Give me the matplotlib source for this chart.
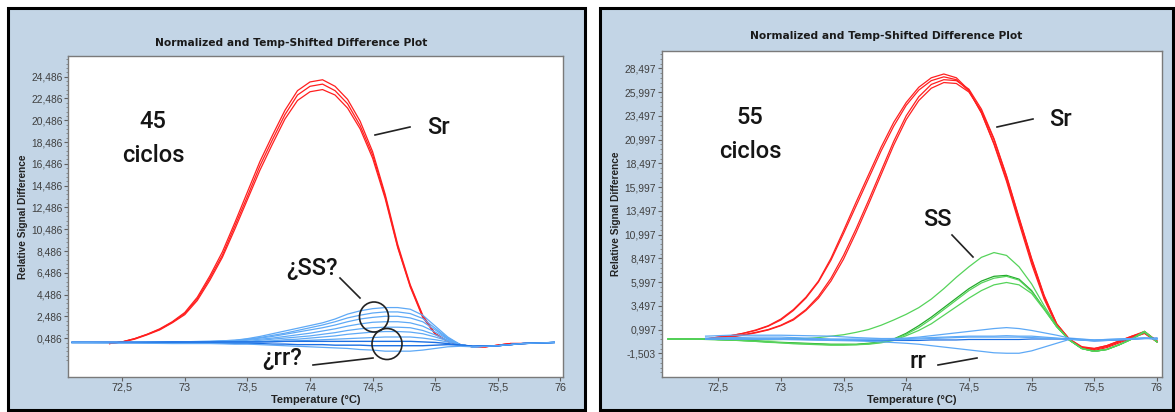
import numpy as np
import matplotlib
matplotlib.use("Agg")
import matplotlib.pyplot as plt
from matplotlib.patches import Rectangle, Ellipse
from matplotlib.lines import Line2D

W, H = 1175, 412
fig = plt.figure(figsize=(W / 100, H / 100), dpi=100)
fig.patch.set_facecolor("white")

# ---------------- data: 45 cycles (left) ----------------
left_red_x = np.round(np.arange(72.4, 75.81, 0.1), 2)
left_red_1 = [0.0, 0.15, 0.45, 0.85, 1.35, 2.0, 2.85, 4.25, 6.2, 8.4, 11.1, 13.9, 16.7, 19.1, 21.4, 23.2,
              24.0, 24.2, 23.6, 22.4, 20.4, 17.6, 13.7, 9.1, 5.4, 2.6, 0.9, 0.2, -0.1, -0.3, -0.3, -0.15, 0.0, 0.0, 0.05]
left_red_2 = [0.0, 0.15, 0.45, 0.85, 1.3, 1.95, 2.75, 4.1, 6.0, 8.1, 10.8, 13.5, 16.3, 18.7, 21.0, 22.8,
              23.6, 23.8, 23.2, 22.0, 20.0, 17.3, 13.5, 8.9, 5.3, 2.5, 0.9, 0.2, -0.1, -0.3, -0.3, -0.15, 0.0, 0.0, 0.05]
left_red_3 = [0.0, 0.15, 0.4, 0.8, 1.25, 1.9, 2.65, 3.95, 5.8, 7.9, 10.5, 13.2, 15.9, 18.3, 20.6, 22.3,
              23.1, 23.3, 22.8, 21.6, 19.7, 17.0, 13.3, 8.8, 5.2, 2.4, 0.85, 0.2, -0.1, -0.3, -0.3, -0.15, 0.0, 0.0, 0.05]

left_blue_x = [72.1, 72.5, 72.9, 73.2, 73.4, 73.5, 73.6, 73.7, 73.8, 73.9, 74.0, 74.1, 74.2, 74.3, 74.4,
               74.5, 74.6, 74.7, 74.8, 74.9, 75.0, 75.1, 75.2, 75.3, 75.5, 75.7, 75.95]
left_blue_1 = [0.1, 0.1, 0.15, 0.2, 0.3, 0.45, 0.65, 0.9, 1.15, 1.4, 1.65, 1.9, 2.25, 2.7, 3.0, 3.2, 3.3, 3.3,
               3.15, 2.6, 1.6, 0.6, -0.1, -0.3, -0.2, 0.0, 0.1]
left_blue_2 = [0.1, 0.1, 0.15, 0.2, 0.3, 0.4, 0.55, 0.75, 0.95, 1.2, 1.45, 1.7, 2.0, 2.35, 2.6, 2.8, 2.9, 2.9,
               2.75, 2.3, 1.4, 0.5, -0.1, -0.3, -0.2, 0.0, 0.1]
left_blue_3 = [0.1, 0.1, 0.1, 0.15, 0.25, 0.35, 0.5, 0.65, 0.85, 1.05, 1.25, 1.45, 1.7, 2.0, 2.25, 2.4, 2.5, 2.5,
               2.35, 2.0, 1.25, 0.45, -0.1, -0.3, -0.2, 0.0, 0.1]
left_blue_4 = [0.1, 0.1, 0.1, 0.15, 0.2, 0.3, 0.4, 0.5, 0.65, 0.8, 0.95, 1.15, 1.35, 1.6, 1.8, 1.95, 2.0, 2.0,
               1.9, 1.6, 1.05, 0.4, -0.1, -0.3, -0.2, 0.0, 0.1]
left_blue_5 = [0.1, 0.1, 0.1, 0.1, 0.15, 0.2, 0.3, 0.4, 0.5, 0.6, 0.7, 0.85, 1.0, 1.2, 1.35, 1.45, 1.5, 1.5,
               1.45, 1.2, 0.8, 0.3, -0.1, -0.3, -0.2, 0.0, 0.1]
left_blue_6 = [0.1, 0.1, 0.1, 0.1, 0.1, 0.15, 0.2, 0.25, 0.35, 0.4, 0.5, 0.6, 0.7, 0.85, 0.95, 1.05, 1.1, 1.1,
               1.05, 0.9, 0.6, 0.25, -0.1, -0.25, -0.2, 0.0, 0.1]
left_blue_7 = [0.1, 0.1, 0.1, 0.1, 0.1, 0.1, 0.15, 0.2, 0.2, 0.25, 0.3, 0.35, 0.4, 0.45, 0.5, 0.55, 0.6, 0.6,
               0.6, 0.5, 0.35, 0.15, -0.1, -0.25, -0.2, 0.0, 0.1]
left_blue_8 = [0.1, 0.1, 0.15, 0.15, 0.15, 0.15, 0.15, 0.15, 0.2, 0.2, 0.2, 0.2, 0.2, 0.2, 0.2, 0.2, 0.2, 0.2,
               0.2, 0.15, 0.1, 0.0, -0.15, -0.25, -0.2, 0.0, 0.1]
left_blue_9 = [0.1, 0.1, 0.05, 0.05, 0.0, 0.0, 0.0, -0.05, -0.05, -0.1, -0.1, -0.1, -0.15, -0.15, -0.15, -0.2,
               -0.2, -0.2, -0.2, -0.2, -0.15, -0.1, -0.15, -0.25, -0.2, 0.0, 0.1]
left_blue_10 = [0.1, 0.05, 0.0, 0.0, -0.05, -0.05, -0.1, -0.15, -0.2, -0.25, -0.3, -0.35, -0.4, -0.45, -0.55,
                -0.6, -0.7, -0.7, -0.7, -0.6, -0.45, -0.3, -0.25, -0.3, -0.2, 0.0, 0.1]

left_yticks = [0.486, 2.486, 4.486, 6.486, 8.486, 10.486, 12.486, 14.486, 16.486, 18.486, 20.486, 22.486, 24.486]

# ---------------- data: 55 cycles (right) ----------------
right_red_x = np.round(np.arange(72.4, 76.01, 0.1), 2)
right_red_1 = [0.0, 0.2, 0.35, 0.6, 0.95, 1.4, 2.1, 3.1, 4.4, 6.1, 8.5, 11.4, 14.4, 17.3, 20.2, 22.8, 24.9, 26.5,
               27.5, 27.9, 27.5, 26.2, 23.8, 20.5, 16.6, 12.2, 7.9, 4.2, 1.4, -0.1, -0.9, -1.0, -0.7, -0.2, 0.3, 0.8, -0.2]
right_red_2 = [0.0, 0.2, 0.35, 0.6, 0.9, 1.35, 2.0, 3.0, 4.3, 6.0, 8.3, 11.1, 14.0, 16.9, 19.8, 22.4, 24.6, 26.2,
               27.2, 27.6, 27.3, 26.1, 23.8, 20.6, 16.8, 12.5, 8.2, 4.4, 1.5, 0.0, -0.8, -1.0, -0.7, -0.2, 0.3, 0.7, -0.2]
right_red_3 = [0.0, 0.1, 0.25, 0.45, 0.7, 1.0, 1.45, 2.1, 3.1, 4.5, 6.4, 8.8, 11.6, 14.6, 17.7, 20.8, 23.5, 25.5,
               26.8, 27.3, 27.2, 26.3, 24.2, 21.1, 17.2, 12.8, 8.5, 4.6, 1.6, 0.0, -0.9, -1.1, -0.8, -0.3, 0.2, 0.6, -0.3]
right_red_4 = [0.0, 0.1, 0.2, 0.4, 0.65, 0.95, 1.4, 2.0, 3.0, 4.3, 6.1, 8.4, 11.2, 14.2, 17.3, 20.4, 23.1, 25.1,
               26.4, 27.0, 26.9, 26.0, 24.0, 21.0, 17.1, 12.7, 8.4, 4.5, 1.6, 0.0, -0.9, -1.2, -0.9, -0.4, 0.1, 0.6, -0.3]

right_green_x = np.round(np.arange(72.1, 76.01, 0.1), 2)
right_green_1 = [0.0, 0.0, 0.0, -0.05, -0.1, -0.1, -0.1, -0.1, -0.1, -0.05, 0.0, 0.05, 0.15, 0.3, 0.45, 0.7, 1.0,
                 1.45, 2.0, 2.6, 3.3, 4.2, 5.3, 6.5, 7.6, 8.6, 9.1, 8.8, 7.6, 5.8, 3.5, 1.4, -0.1, -1.0, -1.3, -1.1,
                 -0.6, 0.0, 0.7, -0.3]
right_green_2 = [0.0, 0.0, 0.0, 0.0, -0.05, -0.1, -0.15, -0.2, -0.3, -0.35, -0.4, -0.45, -0.5, -0.55, -0.55, -0.55,
                 -0.45, -0.3, 0.0, 0.6, 1.4, 2.3, 3.3, 4.3, 5.3, 6.1, 6.6, 6.7, 6.3, 5.1, 3.2, 1.3, -0.1, -1.0, -1.3,
                 -1.1, -0.6, 0.0, 0.8, -0.3]
right_green_3 = [0.0, 0.0, 0.0, 0.0, -0.05, -0.1, -0.15, -0.25, -0.3, -0.4, -0.45, -0.5, -0.55, -0.6, -0.6, -0.6,
                 -0.5, -0.35, -0.05, 0.5, 1.2, 2.1, 3.1, 4.1, 5.1, 5.9, 6.4, 6.6, 6.2, 5.0, 3.2, 1.3, -0.1, -1.0, -1.3,
                 -1.1, -0.6, 0.0, 0.8, -0.3]
right_green_4 = [0.0, 0.0, 0.0, 0.0, -0.05, -0.1, -0.2, -0.25, -0.35, -0.4, -0.5, -0.55, -0.6, -0.65, -0.65, -0.6,
                 -0.55, -0.4, -0.15, 0.35, 0.9, 1.6, 2.5, 3.4, 4.3, 5.1, 5.7, 5.95, 5.7, 4.8, 3.1, 1.3, -0.1, -1.0,
                 -1.3, -1.1, -0.6, 0.0, 0.8, -0.3]

right_blue_x = [72.4, 72.6, 72.8, 73.0, 73.2, 73.4, 73.6, 73.8, 74.0, 74.1, 74.2, 74.3, 74.4, 74.5, 74.6, 74.7,
                74.8, 74.9, 75.0, 75.1, 75.2, 75.3, 75.5, 75.7, 75.9, 76.0]
right_blue_1 = [0.1, 0.15, 0.2, 0.2, 0.1, 0.0, 0.0, 0.0, 0.1, 0.2, 0.35, 0.5, 0.65, 0.8, 0.95, 1.1, 1.2, 1.1, 0.9,
                0.65, 0.4, 0.1, -0.1, 0.0, 0.1, 0.0]
right_blue_2 = [0.3, 0.4, 0.4, 0.4, 0.35, 0.3, 0.15, 0.05, 0.05, 0.1, 0.15, 0.2, 0.25, 0.3, 0.3, 0.3, 0.35, 0.3,
                0.3, 0.2, 0.1, 0.0, -0.1, 0.0, 0.1, 0.0]
right_blue_3 = [0.0, 0.0, 0.0, 0.0, -0.05, -0.1, -0.15, -0.15, -0.15, -0.15, -0.1, -0.1, -0.1, -0.05, -0.05,
                -0.05, -0.05, -0.05, 0.0, 0.0, 0.0, 0.0, -0.2, -0.1, 0.05, 0.1]
right_blue_4 = [0.0, 0.0, 0.0, -0.05, -0.1, -0.15, -0.2, -0.3, -0.45, -0.55, -0.7, -0.85, -1.0, -1.15, -1.3,
                -1.45, -1.5, -1.5, -1.25, -0.85, -0.45, -0.05, -0.2, -0.1, 0.05, 0.0]
right_blue_5 = [0.0, 0.0, 0.0, 0.0, 0.0, -0.05, -0.1, -0.1, -0.05, 0.0, 0.05, 0.1, 0.15, 0.2, 0.2, 0.2, 0.2, 0.2,
                0.15, 0.1, 0.05, 0.0, -0.15, -0.05, 0.1, 0.05]

right_yticks = [-1.503, 0.997, 3.497, 5.997, 8.497, 10.997, 13.497, 15.997, 18.497, 20.997, 23.497, 25.997, 28.497]
x_ticks = [72.5, 73.0, 73.5, 74.0, 74.5, 75.0, 75.5, 76.0]

TITLE = "Normalized and Temp-Shifted Difference Plot"
XLABEL = "Temperature (°C)"
YLABEL = "Relative Signal Difference"

# ---------------- styling ----------------
PANEL = "#c3d5e6"
RED = "#ff1f1f"
BLUE_L = "#5ea9f6"
BLUE_D = "#1c6fe3"
GREEN_L = "#55d35a"
GREEN_D = "#22aa2a"
NARROW = ["Liberation Sans Narrow", "Liberation Sans", "DejaVu Sans"]
ANNOT = ["Roboto", "DejaVu Sans"]


def fx(px):
    return px / W


def fy(py):
    return 1 - py / H


def comma(v, nd):
    if nd == 0:
        return f"{v:.0f}"
    return f"{v:.{nd}f}".replace(".", ",")


# panel frames (behind the axes)
fig.patches.append(Rectangle((fx(8), fy(410)), (585 - 8) / W, (410 - 8) / H, transform=fig.transFigure,
                             facecolor=PANEL, edgecolor="black", lw=2.2, zorder=-5))
fig.patches.append(Rectangle((fx(600), fy(410)), (1173 - 600) / W, (410 - 8) / H, transform=fig.transFigure,
                             facecolor=PANEL, edgecolor="black", lw=2.2, zorder=-5))


def setup_axes(rect, xlim, ylim, yticks, title_xy, ylab_x):
    ax = fig.add_axes(rect)
    ax.set_zorder(1)
    ax.set_facecolor("white")
    ax.set_xlim(*xlim)
    ax.set_ylim(*ylim)
    for s in ax.spines.values():
        s.set_color("#7a7a7a")
        s.set_linewidth(1.0)
    ax.set_yticks(yticks)
    ax.set_yticklabels([comma(v, 3) for v in yticks], family=NARROW, fontsize=7.4, color="#404040")
    ax.set_xticks(x_ticks)
    ax.set_xticklabels([comma(v, 0 if v == int(v) else 1) for v in x_ticks], family=NARROW, fontsize=7.8,
                       color="#404040")
    step = yticks[1] - yticks[0]
    minor = [yticks[0] - step + i * step / 5 for i in range(5 * (len(yticks) + 2))]
    ax.set_yticks([m for m in minor if ylim[0] <= m <= ylim[1]], minor=True)
    ax.tick_params(axis="both", which="major", direction="out", length=3, width=0.8, color="#606060", pad=1)
    ax.tick_params(axis="y", which="minor", direction="out", length=1.5, width=0.6, color="#808080")
    ax.set_xlabel(XLABEL, family=NARROW, fontsize=8.0, fontweight="bold", color="#222222", labelpad=2)
    fig.text(fx(ylab_x), (rect[1] + rect[3] / 2), YLABEL, rotation=90, ha="center", va="center",
             family=NARROW, fontsize=7.3, fontweight="bold", color="#222222")
    fig.text(fx(title_xy[0]), fy(title_xy[1]), TITLE, ha="center", va="center", family="DejaVu Sans",
             fontsize=7.7, fontweight="bold", color="#1a1a1a")
    return ax


# ---------------- left panel ----------------
axL = setup_axes([fx(68.3), fy(377), (563 - 68.3) / W, (377 - 56) / H], (72.07, 76.02), (-3.07, 26.38),
                 left_yticks, (291, 43), 23)
for ys in [left_red_1, left_red_2, left_red_3]:
    axL.plot(left_red_x, ys, color=RED, lw=0.9, zorder=2)
for i, ys in enumerate([left_blue_1, left_blue_2, left_blue_3, left_blue_4, left_blue_5, left_blue_6,
                        left_blue_7, left_blue_8, left_blue_9, left_blue_10]):
    axL.plot(left_blue_x, ys, color=BLUE_D if i in (7, 8) else BLUE_L, lw=1.0 if i in (7, 8) else 0.9, zorder=3)

# ---------------- right panel ----------------
axR = setup_axes([fx(661.7), fy(377), (1162 - 661.7) / W, (377 - 51) / H], (72.05, 76.04), (-4.0, 30.32),
                 right_yticks, (886, 36), 616)
for ys in [right_red_1, right_red_2, right_red_3, right_red_4]:
    axR.plot(right_red_x, ys, color=RED, lw=0.9, zorder=2)
for i, ys in enumerate([right_green_1, right_green_2, right_green_3, right_green_4]):
    axR.plot(right_green_x, ys, color=GREEN_D if i == 1 else GREEN_L, lw=0.9, zorder=3)
for i, ys in enumerate([right_blue_1, right_blue_2, right_blue_3, right_blue_4, right_blue_5]):
    axR.plot(right_blue_x, ys, color=BLUE_D if i == 2 else BLUE_L, lw=0.9, zorder=4)


# ---------------- annotations (figure pixel positions) ----------------
def label(x, y, s):
    t = fig.text(fx(x), fy(y), s, ha="center", va="center", family=ANNOT, fontsize=17, fontweight="medium",
                 color="#151515")
    t.set_zorder(5)


def seg(x0, y0, x1, y1):
    fig.add_artist(Line2D([fx(x0), fx(x1)], [fy(y0), fy(y1)], transform=fig.transFigure, color="#222222",
                          lw=1.2, zorder=5))


def circ(x, y, d):
    fig.add_artist(Ellipse((fx(x), fy(y)), d / W, (d + 1) / H, transform=fig.transFigure, fill=False,
                           edgecolor="#222222", lw=1.2, zorder=5))


label(153, 121, "45")
label(153, 155, "ciclos")
label(438, 127, "Sr")
seg(375, 135, 410, 127)
label(312, 268, "¿SS?")
seg(340, 278, 360, 298)
circ(374, 317, 29)
circ(387, 344, 30)
label(282, 359, "¿rr?")
seg(313, 365, 373, 358)

label(750, 118, "55")
label(750, 152, "ciclos")
label(1060, 119, "Sr")
seg(997, 127, 1033, 119)
label(937, 219, "SS")
seg(952, 235, 973, 257)
label(918, 361, "rr")
seg(938, 365, 977, 358)

fig.savefig("out.png", dpi=100, facecolor="white")
